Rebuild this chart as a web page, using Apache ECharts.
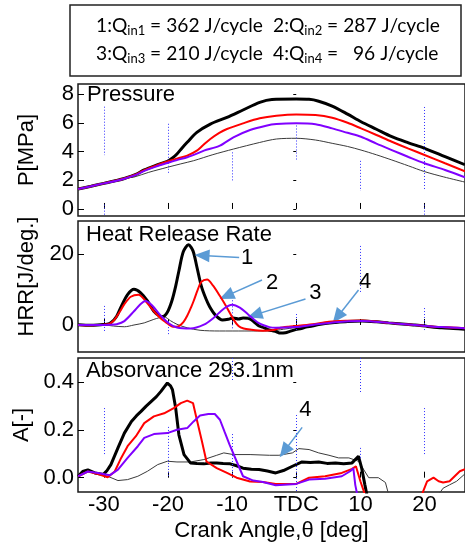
<!DOCTYPE html>
<html><head><meta charset="utf-8">
<script src="https://cdn.jsdelivr.net/npm/echarts@6/dist/echarts.min.js"></script>
<style>html,body{margin:0;padding:0;background:#fff}#c{width:465px;height:544px}</style>
</head><body><div id="c"></div>
<script>
// ---------- DATA ----------
const xTickValues = [-30, -20, -10, 0, 10, 20];
const xTickLabels = ['-30', '-20', '-10', 'TDC', '10', '20'];
const pTicks = [0, 2, 4, 6, 8];
const hTicks = [0, 20];
const aTicks = [0, 0.2, 0.4];

const legendNums = ['1', '2', '3', '4'];
const legendQ = ['362', '287', '210', '  96'];

// Pressure [deg, MPa]
const pressure1 = [[-34,1.39],[-32,1.58],[-30,1.78],[-28,1.98],[-26.8,2.12],[-25,2.4],[-23.7,2.72],[-22,3.02],[-20.1,3.32],[-19.3,3.55],[-18.6,3.83],[-17.8,4.25],[-17,4.64],[-15.5,5.33],[-13.4,5.91],[-10.8,6.38],[-8.3,6.89],[-5.7,7.42],[-3.8,7.62],[0,7.65],[2,7.63],[3.5,7.5],[5.6,7.16],[8,6.6],[10.1,6.07],[12.5,5.55],[14.9,5.03],[17.5,4.6],[20,4.22],[23.2,3.64],[26.3,3.08]];
const pressure2 = [[-34,1.39],[-32,1.58],[-30,1.78],[-28,1.98],[-26.8,2.12],[-25,2.4],[-23.7,2.7],[-22,3.0],[-20.1,3.3],[-18.5,3.52],[-17,3.71],[-15.5,4.06],[-14.5,4.45],[-13.4,4.87],[-12,5.3],[-10.8,5.57],[-8.3,5.96],[-5.7,6.31],[-3.1,6.49],[0,6.58],[3,6.54],[5.6,6.35],[8,6.0],[10.1,5.61],[12.5,5.15],[14.9,4.68],[17.5,4.2],[20,3.76],[23.2,3.18],[26.3,2.62]];
const pressure3 = [[-34,1.39],[-32,1.58],[-30,1.78],[-28,1.97],[-26.8,2.1],[-25,2.37],[-23.7,2.65],[-22,2.93],[-20.1,3.2],[-18.5,3.42],[-17,3.6],[-15.5,3.85],[-14.4,4.06],[-11.9,4.41],[-9.8,4.99],[-7.2,5.5],[-4.7,5.8],[-3.1,5.91],[0,5.96],[3,5.9],[5.6,5.61],[8,5.3],[10.1,5.03],[12.5,4.55],[14.9,4.1],[17.5,3.62],[20,3.18],[23.2,2.71],[26.3,2.2]];
const pressure4 = [[-34,1.39],[-32,1.58],[-30,1.78],[-28,1.97],[-26.5,2.15],[-25.3,2.22],[-23,2.55],[-20.1,2.9],[-18,3.14],[-16,3.36],[-13,3.78],[-9.8,4.17],[-5.7,4.63],[-3.1,4.87],[0,4.92],[3,4.8],[5.6,4.57],[8,4.35],[10.1,4.1],[12.5,3.77],[14.9,3.41],[17.5,3.0],[20,2.6],[23,2.23],[26.3,1.87]];

// Heat release rate [deg, J/deg]
const hrr1 = [[-34,0.1],[-32,-0.1],[-30.5,0.1],[-29.5,0.2],[-28.8,0.8],[-28,2.5],[-27.3,5.2],[-26.3,8.6],[-25.3,10.1],[-24.3,9.2],[-23.2,6.8],[-22.2,3.9],[-21.4,2.7],[-20.8,2.4],[-20.1,3.6],[-19.4,6.8],[-18.8,11],[-18.3,15.3],[-17.6,20.8],[-16.8,22.7],[-16.1,21],[-15.5,16.5],[-14.8,11],[-14.1,7.5],[-13.5,5.2],[-12.6,2.8],[-11.5,1.4],[-10.6,1.6],[-9.8,2.0],[-9,1.7],[-8.3,2.0],[-7.5,1.9],[-7,1.5],[-6.4,0.6],[-5.8,-0.3],[-5,-0.8],[-4.4,-1.3],[-3.8,-1.6],[-3.1,-1.9],[-2.5,-2.3],[-1.7,-2.2],[-1,-1.8],[-0.1,-1.3],[0.8,-1.0],[1.5,-0.6],[2.5,-0.3],[3.5,0.1],[4.5,0.4],[6,0.7],[8,1.0],[10.3,1.1],[12.5,0.9],[14.4,0.6],[16.5,0.3],[18.5,0],[20.5,-0.4],[22.7,-0.8],[24.5,-1.0],[26.3,-1.2]];
const hrr2 = [[-34,0],[-32,-0.1],[-30,0.1],[-29.3,0.2],[-28.8,0.7],[-28.3,1.6],[-27.5,3.8],[-26.8,5.9],[-25.8,8.0],[-24.6,8.6],[-23.5,6.8],[-22.2,3.9],[-21.2,2.0],[-20.4,0.9],[-19.2,-0.5],[-18.4,-0.4],[-17.6,0.8],[-17,2.6],[-16.4,5.0],[-16,6.8],[-15.4,9.8],[-14.8,12.2],[-13.9,12.9],[-13,11.2],[-11.9,8.2],[-10.8,4.9],[-9.8,1.6],[-9,-0.3],[-8.2,-1.0],[-7.2,-1.3],[-5.2,-1.6],[-3.5,-1.4],[-2.7,-0.9],[-1.2,-0.5],[0,-0.3],[2.5,0.2],[5.1,0.9],[8,1.2],[10.3,1.3],[12.5,1.0],[14.4,0.6],[18.5,0],[22.7,-0.6],[26.3,-0.9]];
const hrr3 = [[-34,0],[-31,0],[-29,0.05],[-28,0.2],[-26.8,1.1],[-25.3,3.9],[-24.3,5.9],[-23.5,6.8],[-22.5,5.6],[-21.2,2.8],[-19.9,0.5],[-18.6,-0.7],[-16.5,-1.0],[-14.4,0.1],[-12.9,2.0],[-11.3,4.6],[-10.0,5.7],[-8.8,4.9],[-7.5,3.0],[-5.9,0.6],[-4.2,-0.6],[-3.2,-0.8],[-0.1,-0.6],[2.5,0],[6.1,0.8],[10.3,1.1],[14.4,0.6],[18.5,0],[22.7,-0.6],[26.3,-0.9]];
const hrr4 = [[-34,0],[-30,0],[-28.5,-0.3],[-26.8,-0.5],[-25.3,0],[-23.7,0.6],[-22.2,1.6],[-20.6,2.3],[-19.6,1.2],[-18.6,0.2],[-17,-0.8],[-15,-1.5],[-12,-1.7],[-8,-1.7],[-4,-1.7],[-2,-1.2],[0,-0.7],[3,0],[6,0.7],[10,1.0],[14,0.6],[18,0],[22,-0.6],[26.3,-0.9]];

// Absorbance [deg, -]
const abs1 = [[-34,0.006],[-33.3,0.026],[-32.5,0.033],[-31.4,0.02],[-30.1,0.013],[-29.5,0.03],[-28.9,0.055],[-27.8,0.125],[-26.8,0.187],[-25.7,0.236],[-24.9,0.26],[-24.2,0.278],[-23.4,0.3],[-22.6,0.32],[-21.8,0.34],[-21.1,0.362],[-20.6,0.38],[-20.1,0.397],[-19.6,0.385],[-19.3,0.369],[-18.8,0.292],[-18.3,0.18],[-17.5,0.097],[-16.5,0.062],[-15.5,0.06],[-14.4,0.058],[-13.3,0.062],[-12.4,0.062],[-11.4,0.06],[-10.3,0.058],[-9.3,0.05],[-8.3,0.04],[-7,0.035],[-5.8,0.034],[-4.5,0.028],[-3.2,0.02],[-2,0.03],[-0.6,0.048],[0.9,0.066],[2.2,0.064],[3.5,0.066],[4.8,0.06],[6.1,0.062],[7.4,0.058],[8.7,0.062],[9.7,0.09],[10.2,0.04],[10.7,-0.03],[11.0,-0.07]];
const abs2 = [[-34,0.006],[-32.5,0.026],[-30.9,0.015],[-29.4,0.002],[-28.3,0.026],[-27.3,0.083],[-26.3,0.132],[-25,0.174],[-23.7,0.229],[-22.2,0.257],[-20.6,0.27],[-19.1,0.292],[-18,0.313],[-17,0.323],[-16.1,0.313],[-15.5,0.243],[-14.7,0.152],[-14,0.068],[-12.4,0.04],[-10.8,0.02],[-9.3,0],[-7.2,-0.016],[-5.2,-0.018],[-3.2,-0.026],[0,-0.026],[2,0],[4.5,0.006],[7.1,0.02],[8.7,0.037],[9.3,0.048],[10,-0.015],[10.7,-0.07],[15,null],[19.6,-0.07],[20.4,-0.015],[21.4,0],[22.2,-0.015],[22.9,-0.02],[23.9,-0.015],[24.7,0.006],[25.5,0.027],[26.3,0.036]];
const abs3 = [[-34,0.006],[-32.5,0.026],[-30.9,0.02],[-29.1,0.01],[-27.8,0.034],[-26.3,0.083],[-24.7,0.132],[-23.7,0.167],[-22.2,0.183],[-20.1,0.187],[-18.6,0.201],[-17,0.208],[-16,0.236],[-15,0.261],[-13.7,0.267],[-12.7,0.267],[-11.9,0.243],[-11.2,0.194],[-10.4,0.139],[-9.3,0.069],[-8.3,0.006],[-6.7,-0.012],[-5.2,-0.018],[-3.2,-0.032],[0,-0.026],[2,-0.008],[4.5,-0.004],[7.1,0.006],[8.4,0.027],[8.9,0.04],[9.2,-0.03],[9.5,-0.07]];
const abs4 = [[-34,0.006],[-32.5,0.026],[-30.9,0.02],[-29.4,0.006],[-27.8,-0.012],[-26.3,-0.008],[-24.7,0.006],[-23.2,0.027],[-21.6,0.055],[-20.1,0.069],[-18.6,0.066],[-16.5,0.066],[-14.4,0.076],[-12.4,0.094],[-11.3,0.104],[-9.8,0.097],[-7.2,0.097],[-4.2,0.094],[-2.7,0.094],[-0.6,0.104],[0.4,0.122],[2,0.118],[3.5,0.104],[5.1,0.094],[6.6,0.083],[8.2,0.083],[9.7,0.069],[11.3,0.0],[12.8,0.0],[13.9,-0.02],[14.4,-0.07],[18,null],[22.2,-0.07],[22.9,-0.044],[23.9,-0.03],[25,-0.015],[26.3,0.016]];

// dotted grid fragments [x, yFrom, yTo]
const pressureFrags = [[-30,7.12,3.75],[-30,0.3,-0.49],[-20,5.93,2.42],[-10,3.94,1.95],[0,5.81,3.35],[10,8.74,8.03],[10,3.35,1.25],[20,7.1,1.37],[20,0.3,-0.49]];
const hrrFrags = [[-30,29.5,18.4],[-30,5.4,-1.7],[-20,29.5,13.9],[-20,1.1,-3.1],[-10,7,-1.4],[0,29.5,17.6],[0,3.1,-1.7],[10,22.4,9.1],[20,29.5,19.5],[20,4.8,-1.7]];
const absFrags = [[-30,0.292,0.091],[-20,0.213,0],[-10,0.502,0.403],[-10,0.183,0],[0,0.263,-0.06],[10,0.502,0.351],[10,0.125,0.074],[20,0.292,0.091]];

// annotation arrows [fromX, fromY, toX, toY] and labels [x, y, text]
const hrrArrows = [[-8.9,19.1,-14.69,19.7],[-5.34,12.75,-10.89,8.24],[1.44,7.37,-6.47,2.86],[9.71,9.92,6.41,2.27]];
const hrrArrowLabels = [[-7.66,19.0,'1'],[-3.78,11.9,'2'],[2.99,9.0,'3'],[10.75,12.3,'4']];
const absArrows = [[0.92,0.211,-1.88,0.111]];
const absArrowLabels = [[1.44,0.284,'4']];

// ---------- CHART ----------
const FONT = 'Liberation Sans, Arial, sans-serif';
const X_MIN = -34.03, X_MAX = 26.31;
const GL = 78, GW = 389;
const grids = [
  {left: GL, width: GW, top: 84, height: 132},
  {left: GL, width: GW, top: 221, height: 131},
  {left: GL, width: GW, top: 358, height: 134}
].map(g => Object.assign(g, {show: true, borderColor: '#1a1a1a', borderWidth: 1.5, backgroundColor: 'transparent'}));

const yRanges = [[-0.49, 8.70], [-7.65, 29.46], [-0.060, 0.502]];
const yTickSets = [pTicks, hTicks, aTicks];
const yNames = ['P[MPa]', 'HRR[J/deg.]', 'A[-]'];
const yFormat = [v => String(v), v => String(v), v => v.toFixed(1)];
const namePad = [[0,0,0,0],[0,0,0,20],[0,0,0,0]];

const xAxes = [0,1,2].map(i => ({
  type: 'value', gridIndex: i, min: X_MIN, max: X_MAX,
  axisLine: {show: false}, splitLine: {show: false},
  axisTick: {show: true, inside: true, length: 6, customValues: xTickValues, lineStyle: {color: '#000', width: 1}},
  axisLabel: i === 2 ? {
    show: true, customValues: xTickValues, margin: 2, color: '#000', fontSize: 22, fontFamily: FONT,
    formatter: v => { const k = xTickValues.indexOf(v); return k >= 0 ? xTickLabels[k] : ''; }
  } : {show: false},
  name: i === 2 ? 'Crank Angle,θ [deg]' : '',
  nameLocation: 'middle', nameGap: 28,
  nameTextStyle: {color: '#000', fontSize: 22, fontFamily: FONT}
}));

const yAxes = [];
[0,1,2].forEach(i => {
  yAxes.push({
    type: 'value', gridIndex: i, position: 'left', min: yRanges[i][0], max: yRanges[i][1],
    axisLine: {show: false}, splitLine: {show: false},
    axisTick: {show: true, inside: false, length: 3, customValues: yTickSets[i], lineStyle: {color: '#000'}},
    axisLabel: {show: true, customValues: yTickSets[i], margin: 4, color: '#000', fontSize: 22, fontFamily: FONT, formatter: yFormat[i]},
    name: yNames[i], nameLocation: 'middle', nameGap: 40,
    nameTextStyle: {color: '#000', fontSize: 22, fontFamily: FONT, padding: namePad[i]}
  });
});
[0,1,2].forEach(i => {
  yAxes.push({
    type: 'value', gridIndex: i, position: 'left', offset: 0, min: yRanges[i][0], max: yRanges[i][1],
    axisLine: {show: false}, splitLine: {show: false},
    axisTick: {show: true, inside: true, length: 6, customValues: yTickSets[i], lineStyle: {color: '#000'}},
    axisLabel: {show: false}
  });
});

const colors = ['#000000', '#ff0000', '#8000ff', '#3a3a3a'];
const widths = [3, 2, 2, 1];
const order = [3, 0, 1, 2];  // draw thin gray first, purple last

function fragLines(frags) {
  return frags.map(f => [{coord: [f[0], f[1]]}, {coord: [f[0], f[2]]}]);
}
function arrowLines(arr) {
  return arr.map(a => [{coord: [a[0], a[1]]}, {coord: [a[2], a[3]]}]);
}

const panelData = [[pressure1, pressure2, pressure3, pressure4], [hrr1, hrr2, hrr3, hrr4], [abs1, abs2, abs3, abs4]];
const fragSets = [pressureFrags, hrrFrags, absFrags];
const smoothSet = [0.3, 0.3, false];

const series = [];
[0,1,2].forEach(p => {
  series.push({
    type: 'line', xAxisIndex: p, yAxisIndex: p, data: [], silent: true, z: 1,
    markLine: {silent: true, symbol: ['none','none'], label: {show: false},
      lineStyle: {color: '#3030ff', width: 1, type: [1, 2]}, data: fragLines(fragSets[p]), animation: false}
  });
  order.forEach(k => {
    series.push({
      type: 'line', xAxisIndex: p, yAxisIndex: p, data: panelData[p][k], showSymbol: false,
      smooth: smoothSet[p], connectNulls: false, clip: true, z: 3 + order.indexOf(k),
      lineStyle: {color: colors[k], width: widths[k]}, itemStyle: {color: colors[k]}
    });
  });
});
function annotSeries(p, arrows, labels) {
  return {
    type: 'line', xAxisIndex: p, yAxisIndex: p, data: [], silent: true, z: 20,
    markLine: {silent: true, symbol: ['none', 'triangle'], symbolSize: [13, 15], label: {show: false},
      lineStyle: {color: '#5b9bd5', width: 1.5, type: 'solid'}, data: arrowLines(arrows), animation: false},
    markPoint: {silent: true, symbol: 'circle', symbolSize: 0, animation: false,
      label: {show: true, position: 'inside', formatter: '{b}', color: '#000', fontSize: 22, fontFamily: FONT},
      data: labels.map(l => ({name: l[2], coord: [l[0], l[1]]}))}
  };
}
series.push(annotSeries(1, hrrArrows, hrrArrowLabels));
series.push(annotSeries(2, absArrows, absArrowLabels));

const LF = 'Lato, sans-serif';
const legendCols = [96, 273];
const legendRows = [26, 54];
const legendTexts = legendNums.map((n, i) => ({
  type: 'text', x: legendCols[i % 2], y: legendRows[Math.floor(i / 2)],
  style: {
    text: `{a|${n}:Q}{s|in${n}}{a| = ${legendQ[i]} J/cycle}`,
    verticalAlign: 'middle', align: 'left',
    rich: {
      a: {fontSize: 19.2, fontFamily: LF, color: '#000', lineHeight: 22, verticalAlign: 'middle'},
      s: {fontSize: 13, fontFamily: LF, color: '#000', lineHeight: 12, verticalAlign: 'bottom'}
    }
  }
}));

const panelTitles = [['Pressure', 87, 95], ['Heat Release Rate', 86, 235], ['Absorvance 293.1nm', 86, 371]];

const option = {
  animation: false,
  backgroundColor: '#fff',
  grid: grids,
  xAxis: xAxes,
  yAxis: yAxes,
  series: series,
  graphic: [
    {type: 'rect', shape: {x: 70, y: 5, width: 391, height: 71}, style: {fill: 'none', stroke: '#222', lineWidth: 1.5}},
    ...legendTexts,
    ...panelTitles.map(t => ({type: 'text', x: t[1], y: t[2], z: 30,
      style: {text: t[0], font: `22px ${FONT}`, fill: '#000', verticalAlign: 'middle', align: 'left'}}))
  ]
};

const chart = echarts.init(document.getElementById('c'), null, {renderer: 'canvas'});
chart.setOption(option);
</script></body></html>
